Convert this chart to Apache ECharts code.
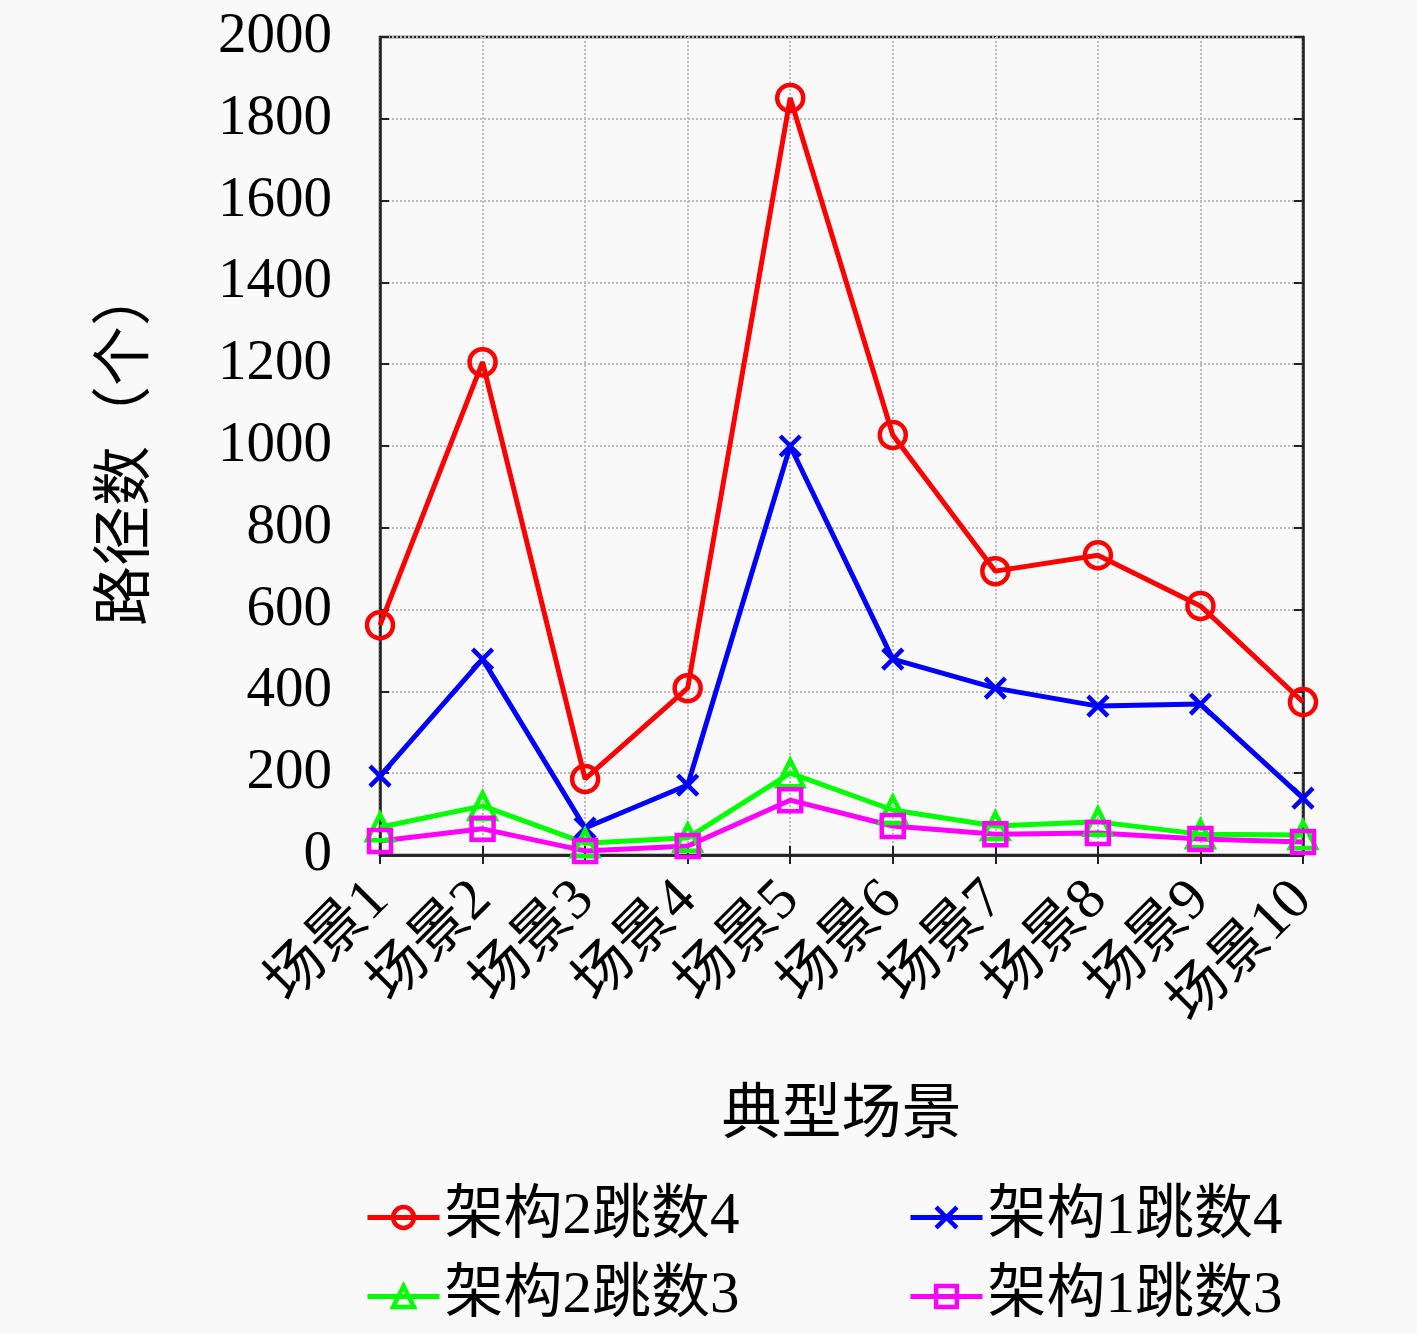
<!DOCTYPE html>
<html>
<head>
<meta charset="utf-8">
<script src="https://cdn.jsdelivr.net/npm/echarts@6/dist/echarts.min.js"></script>
<style>
  html, body { margin: 0; padding: 0; background: #f9f9f9; }
  #main { width: 1417px; height: 1334px; }
</style>
</head>
<body>
<div id="main"></div>
<script>
// 场景名称
var scenes = ["场景1", "场景2", "场景3", "场景4", "场景5", "场景6", "场景7", "场景8", "场景9", "场景10"];
// 各方案路径数
var arch2hop4 = [562, 1205, 186, 408, 1851, 1027, 694, 733, 609, 374];
var arch1hop4 = [193, 479, 66, 171, 1000, 479, 408, 364, 369, 139];
var arch2hop3 = [68, 120, 29, 42, 200, 110, 71, 81, 51, 49];
var arch1hop3 = [34, 64, 10, 22, 134, 71, 51, 54, 39, 32];

var serif = "'Liberation Serif', 'DejaVu Serif', 'Noto Sans CJK SC', serif";
var crossPath = "path://M0,0 L10,10 M10,0 L0,10";

function makeSeries(name, data, color, symbol, size) {
    return {
        name: name,
        type: "line",
        data: data,
        color: color,
        symbol: symbol,
        symbolSize: size,
        showAllSymbol: true,
        lineStyle: { color: color, width: 5 },
        itemStyle: { color: "rgba(0,0,0,0)", borderColor: color, borderWidth: 4.5 },
        emphasis: { disabled: true },
        z: 3
    };
}

function makeLegend(name, left, top) {
    return {
        data: [name],
        left: left,
        top: top,
        itemWidth: 72,
        itemHeight: 26,
        itemGap: 10,
        lineStyle: { width: 5 },
        itemStyle: { borderWidth: 4.5 },
        textStyle: { fontFamily: serif, fontSize: 59, color: "#000" }
    };
}

var myChart = echarts.init(document.getElementById("main"));
var option = {
    backgroundColor: "#f9f9f9",
    animation: false,
    grid: {
        left: 380, right: 114, top: 37, bottom: 479,
        show: true, borderColor: "#222", borderWidth: 2.5,
        backgroundColor: "rgba(0,0,0,0)"
    },
    legend: [
        makeLegend("架构2跳数4", 360, 1183),
        makeLegend("架构1跳数4", 903, 1183),
        makeLegend("架构2跳数3", 360, 1262),
        makeLegend("架构1跳数3", 903, 1262)
    ],
    xAxis: [{
        type: "category",
        data: scenes,
        boundaryGap: false,
        name: "典型场景",
        nameLocation: "middle",
        nameGap: 232,
        nameTextStyle: { fontFamily: serif, fontSize: 60, color: "#000" },
        axisLine: { lineStyle: { color: "#222", width: 2.5 } },
        axisTick: { inside: true, length: 9, lineStyle: { color: "#222", width: 2 } },
        axisLabel: { rotate: 45, interval: 0, hideOverlap: false, fontFamily: serif,
            fontSize: 58, color: "#000", margin: 36 },
        splitLine: { show: true, lineStyle: { color: "#bbb", type: "dotted", width: 2 } }
    }, {
        type: "category",
        data: scenes,
        boundaryGap: false,
        position: "top",
        axisLine: { lineStyle: { color: "#222", width: 2.5 } },
        axisTick: { inside: true, length: 9, interval: 0, lineStyle: { color: "#222", width: 2 } },
        axisLabel: { show: false },
        splitLine: { show: false }
    }],
    yAxis: [{
        type: "value",
        min: 0, max: 2000, interval: 200,
        name: "路径数（个）",
        nameLocation: "middle",
        nameGap: 222,
        nameTextStyle: { fontFamily: serif, fontSize: 60, color: "#000" },
        axisLine: { show: true, lineStyle: { color: "#222", width: 2.5 } },
        axisTick: { show: true, inside: true, length: 9, lineStyle: { color: "#222", width: 2 } },
        axisLabel: { fontFamily: serif, fontSize: 57, color: "#000", margin: 48,
            formatter: function (v) { return String(v); } },
        splitLine: { show: true, lineStyle: { color: "#bbb", type: "dotted", width: 2 } }
    }, {
        type: "value",
        min: 0, max: 2000, interval: 200,
        position: "right",
        axisLine: { show: true, lineStyle: { color: "#222", width: 2.5 } },
        axisTick: { show: true, inside: true, length: 9, lineStyle: { color: "#222", width: 2 } },
        axisLabel: { show: false },
        splitLine: { show: false }
    }],
    series: [
        makeSeries("架构2跳数4", arch2hop4, "#ff0000", "circle", 26),
        makeSeries("架构1跳数4", arch1hop4, "#0000ff", crossPath, 20),
        makeSeries("架构2跳数3", arch2hop3, "#00ff00", "triangle", 26),
        makeSeries("架构1跳数3", arch1hop3, "#ff00ff", "rect", 22)
    ]
};
myChart.setOption(option);
</script>
</body>
</html>
